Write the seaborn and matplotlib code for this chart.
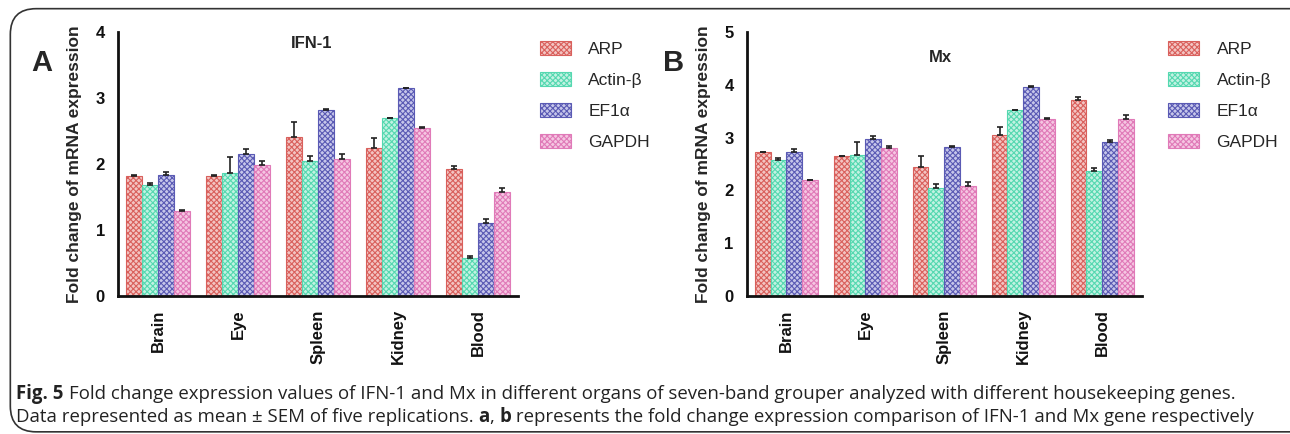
import pandas as pd
import seaborn as sns
import matplotlib.pyplot as plt
from matplotlib.patches import Patch, FancyBboxPatch

organs = ['Brain', 'Eye', 'Spleen', 'Kidney', 'Blood']
genes = ['ARP', 'Actin-β', 'EF1α', 'GAPDH']

# IFN-1 (panel A): mean and SEM per housekeeping gene
ifn_arp = [1.82, 1.82, 2.41, 2.25, 1.92]
ifn_actin = [1.68, 1.86, 2.04, 2.70, 0.57]
ifn_ef1a = [1.83, 2.15, 2.82, 3.15, 1.11]
ifn_gapdh = [1.29, 1.99, 2.08, 2.54, 1.58]
ifn_arp_sem = [0.01, 0.01, 0.23, 0.15, 0.05]
ifn_actin_sem = [0.04, 0.24, 0.08, 0.0, 0.04]
ifn_ef1a_sem = [0.05, 0.08, 0.01, 0.01, 0.05]
ifn_gapdh_sem = [0.01, 0.05, 0.07, 0.02, 0.06]

# Mx (panel B)
mx_arp = [2.72, 2.65, 2.44, 3.05, 3.72]
mx_actin = [2.58, 2.68, 2.05, 3.52, 2.37]
mx_ef1a = [2.73, 2.97, 2.83, 3.96, 2.92]
mx_gapdh = [2.19, 2.81, 2.09, 3.35, 3.36]
mx_arp_sem = [0.01, 0.01, 0.21, 0.16, 0.05]
mx_actin_sem = [0.04, 0.23, 0.08, 0.0, 0.05]
mx_ef1a_sem = [0.05, 0.07, 0.01, 0.01, 0.04]
mx_gapdh_sem = [0.01, 0.04, 0.07, 0.02, 0.06]

face_colors = ['#f3c4c2', '#c2f2e2', '#c6c6ea', '#f5c6e2']
edge_colors = ['#d9605c', '#55d8b0', '#5a5ab4', '#e07ab8']


def long_table(means, sems):
    rows = []
    for g, m, s in zip(genes, means, sems):
        for o, v, e in zip(organs, m, s):
            rows.append({'Organ': o, 'Gene': g, 'Value': v, 'SEM': e})
    return pd.DataFrame(rows)


ifn_df = long_table([ifn_arp, ifn_actin, ifn_ef1a, ifn_gapdh],
                    [ifn_arp_sem, ifn_actin_sem, ifn_ef1a_sem, ifn_gapdh_sem])
mx_df = long_table([mx_arp, mx_actin, mx_ef1a, mx_gapdh],
                   [mx_arp_sem, mx_actin_sem, mx_ef1a_sem, mx_gapdh_sem])

sns.set_theme(style="white")
plt.rcParams['font.family'] = ['Liberation Sans', 'DejaVu Sans']
plt.rcParams['hatch.linewidth'] = 0.8

fig = plt.figure(figsize=(12.9, 4.34), dpi=100)
ax_a = fig.add_axes([0.0915, 0.318, 0.310, 0.608])
ax_b = fig.add_axes([0.579, 0.318, 0.306, 0.608])


def draw_panel(ax, df, ymax, title, title_x, title_y):
    sns.barplot(data=df, x='Organ', y='Value', hue='Gene', order=organs,
                hue_order=genes, errorbar=None, width=0.8, legend=False, ax=ax)
    bar_groups = list(ax.containers)
    for i, cont in enumerate(bar_groups):
        sub = df[df['Gene'] == genes[i]].set_index('Organ').loc[organs]
        for bar, err in zip(cont, sub['SEM']):
            bar.set_facecolor(face_colors[i])
            bar.set_edgecolor(edge_colors[i])
            bar.set_hatch('xxxxxx')
            bar.set_linewidth(0.8)
            xc = bar.get_x() + bar.get_width() / 2
            h = bar.get_height()
            ax.errorbar(xc, h, yerr=[[0], [err]], fmt='none', ecolor='#222222',
                        elinewidth=1.2, capsize=2.5, capthick=1.2, zorder=3)
    ax.set_xlim(-0.5, 4.5)
    ax.set_ylim(0, ymax)
    ax.set_yticks(range(ymax + 1))
    ax.set_xlabel('')
    ax.set_ylabel('Fold change of mRNA expression', fontsize=12.5,
                  fontweight='bold', labelpad=10)
    ax.text(title_x, title_y, title, transform=ax.transAxes,
            ha='center', va='center', fontsize=12, fontweight='bold')
    sns.despine(ax=ax)
    for side in ['left', 'bottom']:
        ax.spines[side].set_linewidth(2)
        ax.spines[side].set_color('#111111')
    ax.tick_params(axis='both', direction='out', length=6, width=1.6,
                   colors='#111111', labelsize=12)
    ax.tick_params(axis='x', labelrotation=90)
    for lab in ax.get_xticklabels() + ax.get_yticklabels():
        lab.set_fontweight('bold')


draw_panel(ax_a, ifn_df, 4, 'IFN-1', 0.483, 0.955)
draw_panel(ax_b, mx_df, 5, 'Mx', 0.489, 0.905)

fig.text(0.024, 0.855, 'A', fontsize=21, fontweight='bold', va='center')
fig.text(0.514, 0.855, 'B', fontsize=21, fontweight='bold', va='center')

handles = [Patch(facecolor=face_colors[i], edgecolor=edge_colors[i],
                 hatch='xxxxxx', linewidth=0.8, label=genes[i]) for i in range(4)]
for x in [0.413, 0.900]:
    fig.legend(handles=handles, loc='upper left', bbox_to_anchor=(x, 0.922),
               frameon=False, fontsize=12.5, handlelength=1.8, handleheight=0.9,
               labelspacing=0.85, handletextpad=1.0, borderaxespad=0)

# rounded frame around the figure
frame = FancyBboxPatch((0.008, 0.005), 1.1, 0.975, boxstyle='round,pad=0,rounding_size=0.02',
                       transform=fig.transFigure, fill=False, edgecolor='#333333',
                       linewidth=1.2, mutation_aspect=1290 / 434)
fig.patches.append(frame)

caption1 = ('Fold change expression values of IFN-1 and Mx in different organs of '
            'seven-band grouper analyzed with different housekeeping genes.')
caption2a = 'Data represented as mean ± SEM of five replications. '
caption2b = ' represents the fold change expression comparison of IFN-1 and Mx gene respectively'
cap_font = 'Open Sans'
cap_size = 13.4
t = fig.text(0.0124, 0.092, 'Fig. 5', fontsize=cap_size, fontweight='bold',
             family=cap_font, color='#222222', va='center')
fig.canvas.draw()
bb = t.get_window_extent()
fig.text(bb.x1 / 1290 + 0.004, 0.092, caption1, fontsize=cap_size, family=cap_font,
         color='#222222', va='center')
t2 = fig.text(0.0124, 0.039, caption2a, fontsize=cap_size, family=cap_font,
              color='#222222', va='center')
fig.canvas.draw()
bb2 = t2.get_window_extent()
t3 = fig.text(bb2.x1 / 1290, 0.039, 'a', fontsize=cap_size, family=cap_font,
              fontweight='bold', color='#222222', va='center')
fig.canvas.draw()
bb3 = t3.get_window_extent()
t4 = fig.text(bb3.x1 / 1290, 0.039, ', ', fontsize=cap_size, family=cap_font,
              color='#222222', va='center')
fig.canvas.draw()
bb4 = t4.get_window_extent()
t5 = fig.text(bb4.x1 / 1290, 0.039, 'b', fontsize=cap_size, family=cap_font,
              fontweight='bold', color='#222222', va='center')
fig.canvas.draw()
bb5 = t5.get_window_extent()
fig.text(bb5.x1 / 1290, 0.039, caption2b, fontsize=cap_size, family=cap_font,
         color='#222222', va='center')

plt.savefig('out.png', dpi=100)
